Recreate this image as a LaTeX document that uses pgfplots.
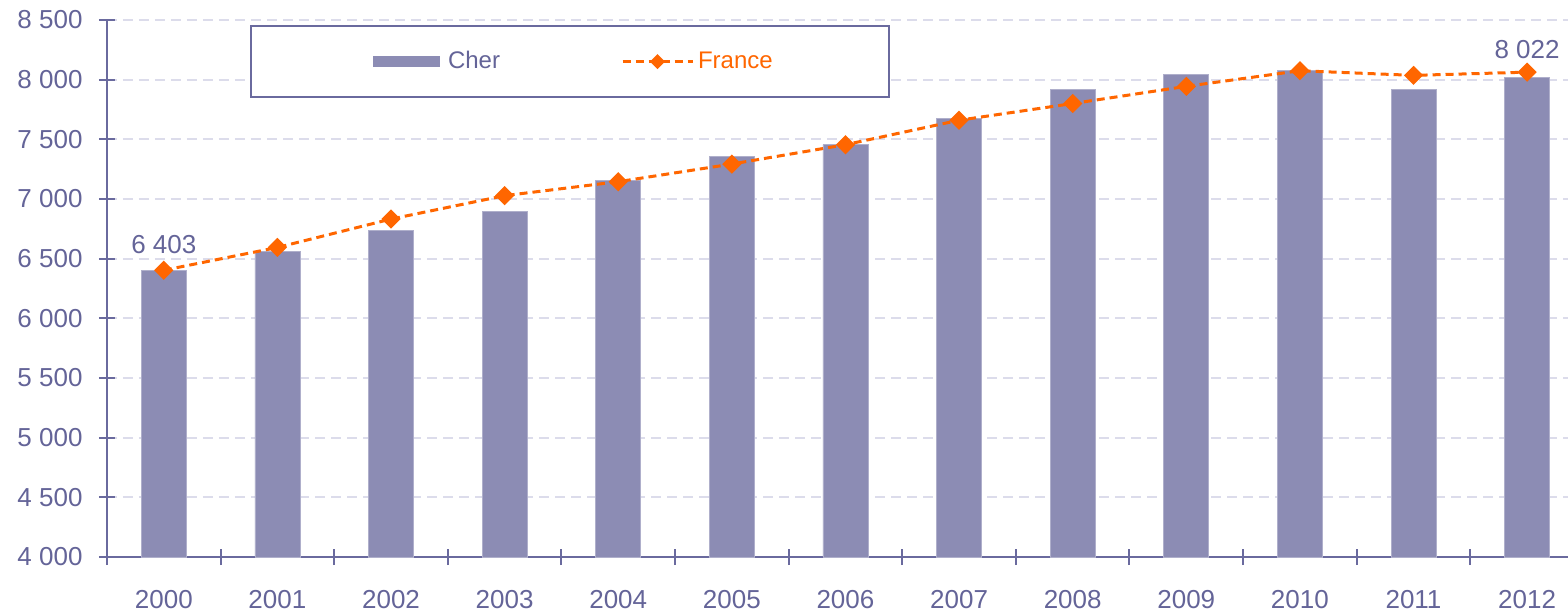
\documentclass[border=0pt]{standalone}
\usepackage{pgfplots}
\pgfplotsset{compat=1.18}
\usepackage{fontspec}
\setmainfont{Liberation Sans}
\usetikzlibrary{calc}
\definecolor{txtcol}{RGB}{100,100,152}
\definecolor{axcol}{RGB}{106,106,158}
\definecolor{barcol}{RGB}{140,140,180}
\definecolor{gridcol}{RGB}{220,220,235}
\definecolor{orangec}{RGB}{255,102,0}
\begin{document}
\begin{tikzpicture}
\begin{axis}[
  scale only axis,
  width=730.5pt, height=268.5pt,
  xmin=-0.5, xmax=12.36,
  ymin=4000, ymax=8500,
  axis x line*=bottom, axis y line*=left,
  axis line style={draw=axcol, line width=1pt},
  every tick/.style={draw=axcol, line width=1pt},
  tick align=center,
  major tick length=8pt, minor tick length=8pt,
  xtick={0,...,12},
  xticklabels={2000,2001,2002,2003,2004,2005,2006,2007,2008,2009,2010,2011,2012},
  major x tick style={draw=none},
  minor xtick={-0.5,0.5,...,11.5},
  ytick={4000,4500,...,8500},
  yticklabels={4 000,4 500,5 000,5 500,6 000,6 500,7 000,7 500,8 000,8 500},
  ymajorgrids,
  grid style={draw=gridcol, line width=0.9pt, dash pattern=on 5pt off 3pt},
  tick label style={font=\fontsize{13}{15}\selectfont, text=txtcol},
  xticklabel style={yshift=-9pt},
  yticklabel style={xshift=-4.7pt},
  legend style={at={(rel axis cs:0.0979,0.9907)}, anchor=north west,
    draw=axcol, line width=1pt, inner xsep=56pt, inner ysep=10.75pt,
    font=\fontsize{12}{14}\selectfont, legend columns=2,
    /tikz/every even column/.append style={column sep=58.5pt}},
  legend cell align=left,
]
\addplot[ybar, bar width=22.5pt, fill=barcol, draw=barcol!70!white, line width=0.4pt,
  legend image code/.code={\path[draw=none, fill=none] (-5pt,0pt) -- (35.5pt,0pt);
    \fill[barcol, draw=none] (0pt,-2.75pt) rectangle (33.5pt,2.75pt);}]
  coordinates {(0,6403) (1,6561) (2,6740) (3,6894) (4,7159) (5,7360) (6,7455)
    (7,7675) (8,7919) (9,8044) (10,8078) (11,7919) (12,8022)};
\addlegendentry{\textcolor{txtcol}{Cher}}
\addplot[orangec, line width=1.5pt, dash pattern=on 4pt off 2.5pt,
  mark=square*, mark size=2.65pt, mark options={solid, rotate=45, fill=orangec, draw=orangec},
  legend image code/.code={\path[draw=none, fill=none] (0pt,0pt) -- (35.5pt,0pt);
    \draw[orangec, line width=1.5pt, dash pattern=on 4pt off 2.5pt] (0pt,0pt) -- (35pt,0pt);
    \fill[orangec, draw=none] (17.5pt,3.75pt) -- (21.25pt,0pt) -- (17.5pt,-3.75pt) -- (13.75pt,0pt) -- cycle;}]
  coordinates {(0,6403) (1,6594) (2,6832) (3,7028) (4,7145) (5,7293) (6,7455)
    (7,7660) (8,7800) (9,7944) (10,8075) (11,8036) (12,8063)};
\addlegendentry{\textcolor{orangec}{France}}
\node[text=txtcol, font=\fontsize{13}{15}\selectfont, yshift=13pt] at (axis cs:0,6403) {6 403};
\node[text=txtcol, font=\fontsize{13}{15}\selectfont, yshift=13.5pt] at (axis cs:12,8022) {8 022};
\end{axis}
\pgfresetboundingbox
\path ($(current axis.south west)+(-53.5pt,-27.5pt)$) rectangle ($(current axis.north east)+(0pt,10pt)$);
\end{tikzpicture}
\end{document}
